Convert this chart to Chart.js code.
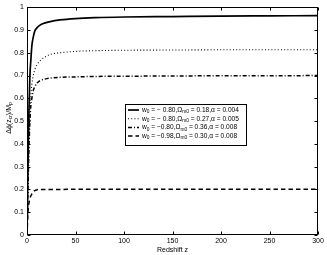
<!DOCTYPE html>
<html><head><meta charset="utf-8">
<script src="https://cdn.jsdelivr.net/npm/chart.js@4.4.1/dist/chart.umd.min.js"></script>
<style>html,body{margin:0;padding:0;background:#fff}#wrap{width:327px;height:255px}</style>
</head><body><div id="wrap"><canvas id="c" width="327" height="255"></canvas></div>
<script>
const zValues = [0, 1, 2, 3, 4, 5, 6.5, 8, 10, 13, 18, 24, 34, 50, 70, 100, 150, 200, 250, 300];
const seriesA = [0, 0.30, 0.55, 0.70, 0.77, 0.83, 0.87, 0.895, 0.908, 0.92, 0.93, 0.937, 0.944, 0.95, 0.954, 0.957, 0.959, 0.961, 0.962, 0.963];
const seriesB = [0, 0.20, 0.40, 0.55, 0.62, 0.66, 0.70, 0.725, 0.745, 0.763, 0.78, 0.793, 0.80, 0.806, 0.809, 0.811, 0.812, 0.813, 0.813, 0.813];
const seriesC = [0, 0.20, 0.38, 0.50, 0.57, 0.60, 0.635, 0.65, 0.665, 0.677, 0.684, 0.689, 0.692, 0.694, 0.696, 0.697, 0.698, 0.699, 0.699, 0.700];
const seriesD = [0, 0.10, 0.14, 0.16, 0.172, 0.18, 0.19, 0.195, 0.198, 0.20, 0.20, 0.20, 0.20, 0.201, 0.201, 0.201, 0.201, 0.201, 0.201, 0.201];
const w0Values = ["− 0.80", "− 0.80", "−0.80", "−0.98"];
const omValues = ["0.18", "0.27", "0.36", "0.30"];
const alphaValues = ["0.004", "0.005", "0.008", "0.008"];
const xTicks = [0, 50, 100, 150, 200, 250, 300];
const yTicks = [0, 0.1, 0.2, 0.3, 0.4, 0.5, 0.6, 0.7, 0.8, 0.9, 1];
const xTitle = "Redshift z";

const FONT = "'Liberation Sans', Arial, sans-serif";
const styles = [
  {dash: [], w: 1.7},
  {dash: [1, 2.2], w: 1.1},
  {dash: [4, 2, 1, 2], w: 1.5},
  {dash: [4.5, 3], w: 1.5}
];
const allSeries = [seriesA, seriesB, seriesC, seriesD];
const datasets = allSeries.map((s, i) => ({
  label: `w0 = ${w0Values[i]}, Ωm0 = ${omValues[i]}, α = ${alphaValues[i]}`,
  data: zValues.map((z, k) => ({x: z, y: s[k]})),
  borderColor: '#000', borderWidth: styles[i].w, borderDash: styles[i].dash,
  pointRadius: 0, fill: false, cubicInterpolationMode: 'monotone'
}));

function segsFor(i) {
  return [["w", 0], ["0", 1], [" = " + w0Values[i] + ",Ω", 0], ["m0", 1], [" = " + omValues[i] + ",α = " + alphaValues[i], 0]];
}

const deco = {
  id: 'deco',
  afterDraw(chart) {
    const ctx = chart.ctx, a = chart.chartArea, xs = chart.scales.x, ys = chart.scales.y;
    ctx.save();
    ctx.strokeStyle = '#000'; ctx.lineWidth = 1; ctx.setLineDash([]);
    const L = Math.round(a.left) + 0.5, R = Math.round(a.right) - 0.5, T = Math.round(a.top) + 0.5, B = Math.round(a.bottom) - 0.5;
    ctx.strokeRect(L, T, R - L, B - T);
    ctx.beginPath();
    xTicks.forEach(v => { const p = Math.round(xs.getPixelForValue(v)) + 0.5; ctx.moveTo(p, B); ctx.lineTo(p, B - 3); ctx.moveTo(p, T); ctx.lineTo(p, T + 3); });
    yTicks.forEach(v => { const p = Math.round(ys.getPixelForValue(v)) + 0.5; ctx.moveTo(L, p); ctx.lineTo(L + 3, p); ctx.moveTo(R, p); ctx.lineTo(R - 3, p); });
    ctx.stroke();
    // legend
    const bx = 125.5, by = 104.5, bw = 121, bh = 41;
    ctx.fillStyle = '#fff'; ctx.fillRect(bx, by, bw, bh); ctx.strokeRect(bx, by, bw, bh);
    for (let i = 0; i < 4; i++) {
      const yy = 110 + i * 8.7;
      ctx.beginPath(); ctx.setLineDash(styles[i].dash); ctx.lineWidth = styles[i].w;
      ctx.moveTo(128, yy); ctx.lineTo(139, yy); ctx.stroke(); ctx.setLineDash([]);
      let x = 142;
      ctx.fillStyle = '#000'; ctx.textBaseline = 'middle'; ctx.textAlign = 'left';
      segsFor(i).forEach(([t, sub]) => {
        ctx.font = (sub ? '4.8px ' : '6.6px ') + FONT;
        ctx.fillText(t, x, yy + (sub ? 2 : 0));
        x += ctx.measureText(t).width;
      });
    }
    // y title
    ctx.translate(9, 118); ctx.rotate(-Math.PI / 2);
    const ys2 = [["Δϕ(z", 0], ["cr", 1], [")/M", 0], ["p", 1]];
    let tw = 0;
    ys2.forEach(([t, sub]) => { ctx.font = (sub ? '5px ' : '7px ') + FONT; tw += ctx.measureText(t).width; });
    let x = -tw / 2;
    ys2.forEach(([t, sub]) => { ctx.font = (sub ? '5px ' : '7px ') + FONT; ctx.fillText(t, x, sub ? 2 : 0); x += ctx.measureText(t).width; });
    ctx.restore();
  }
};

new Chart(document.getElementById('c'), {
  type: 'line',
  data: {datasets},
  plugins: [deco],
  options: {
    responsive: false, animation: false, devicePixelRatio: 1,
    layout: {padding: {left: 0, right: 9, top: 6, bottom: 0}},
    plugins: {legend: {display: false}, tooltip: {enabled: false}},
    scales: {
      x: {
        type: 'linear', min: 0, max: 300,
        afterBuildTicks: s => { s.ticks = xTicks.map(v => ({value: v})); },
        afterFit: s => { s.height = 20; },
        grid: {display: false, drawTicks: false},
        border: {display: false},
        ticks: {color: '#000', font: {family: FONT, size: 7}, padding: 2, maxRotation: 0},
        title: {display: true, text: xTitle, color: '#000', font: {family: FONT, size: 7}, padding: {top: 0, bottom: 1}}
      },
      y: {
        type: 'linear', min: 0, max: 1,
        afterBuildTicks: s => { s.ticks = yTicks.map(v => ({value: v})); },
        afterFit: s => { s.width = 27; },
        grid: {display: false, drawTicks: false},
        border: {display: false},
        ticks: {color: '#000', font: {family: FONT, size: 7}, padding: 3, callback: v => String(Math.round(v * 10) / 10)}
      }
    }
  }
});
</script></body></html>
